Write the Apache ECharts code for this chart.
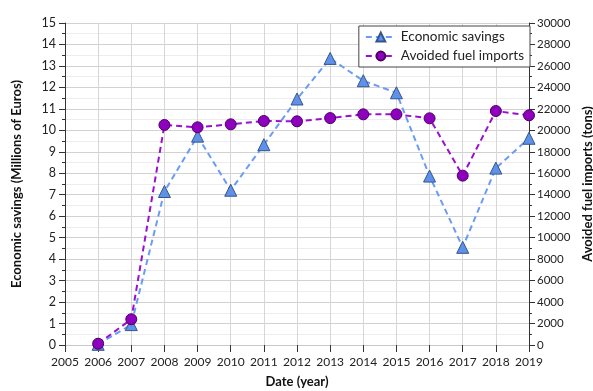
<!DOCTYPE html>
<html>
<head>
<meta charset="utf-8">
<script src="https://cdn.jsdelivr.net/npm/echarts@6/dist/echarts.min.js"></script>
<style>
  html, body { margin: 0; padding: 0; background: #fff; }
  #chart { width: 593px; height: 391px; }
</style>
</head>
<body>
<div id="chart"></div>
<script>
// data
var years = [2006, 2007, 2008, 2009, 2010, 2011, 2012, 2013, 2014, 2015, 2016, 2017, 2018, 2019];
var savings = [0.03, 0.95, 7.15, 9.73, 7.21, 9.33, 11.46, 13.35, 12.31, 11.75, 7.87, 4.55, 8.24, 9.63];
var fuelImports = [120, 2400, 20500, 20280, 20560, 20870, 20840, 21140, 21490, 21490, 21120, 15780, 21800, 21400];

var font = 'Lato, "DejaVu Sans", sans-serif';

function pairs(xs, ys) {
  return xs.map(function (x, i) { return [x, ys[i]]; });
}
function plain(v) { return String(v); }

var myChart = echarts.init(document.getElementById('chart'));

var option = {
  animation: false,
  backgroundColor: '#fff',
  textStyle: { fontFamily: font },
  grid: { left: 65, right: 64, top: 23, bottom: 46, containLabel: false, outerBoundsMode: 'none' },
  legend: {
    orient: 'vertical',
    right: 63,
    top: 26,
    itemWidth: 30,
    itemHeight: 11,
    itemGap: 5,
    padding: [4, 6, 4, 6],
    borderColor: '#444',
    borderWidth: 1,
    backgroundColor: '#fff',
    textStyle: { fontFamily: font, fontSize: 13.5, color: '#222' },
    data: ['Economic savings', 'Avoided fuel imports']
  },
  xAxis: {
    type: 'value',
    min: 2005,
    max: 2019,
    interval: 1,
    name: 'Date (year)',
    nameLocation: 'middle',
    nameGap: 30,
    nameTextStyle: { fontFamily: font, fontSize: 13, fontWeight: 'bold', color: '#111' },
    axisLine: { show: true, lineStyle: { color: '#c8c8c8' } },
    axisTick: { show: true, length: 7, lineStyle: { color: '#333' } },
    axisLabel: { fontFamily: font, fontSize: 12, color: '#222', margin: 11, formatter: plain },
    splitLine: { show: true, lineStyle: { color: '#d6d6d6' } }
  },
  yAxis: [
    {
      type: 'value',
      min: 0,
      max: 15,
      interval: 1,
      name: 'Economic savings (Millions of Euros)',
      nameLocation: 'middle',
      nameRotate: 90,
      nameGap: 42,
      nameTextStyle: { fontFamily: font, fontSize: 13, fontWeight: 'bold', color: '#111' },
      axisLine: { show: true, lineStyle: { color: '#333' } },
      axisTick: { show: true, length: 6, lineStyle: { color: '#333' } },
      minorTick: { show: true, splitNumber: 2, length: 3, lineStyle: { color: '#333' } },
      axisLabel: { fontFamily: font, fontSize: 12.5, color: '#222', margin: 9, formatter: plain },
      splitLine: { show: true, lineStyle: { color: '#d2d2d2' } },
      minorSplitLine: { show: true, lineStyle: { color: '#ededed' } }
    },
    {
      type: 'value',
      min: 0,
      max: 30000,
      interval: 2000,
      name: 'Avoided fuel imports (tons)',
      nameLocation: 'middle',
      nameRotate: 90,
      nameGap: 49,
      nameTextStyle: { fontFamily: font, fontSize: 13, fontWeight: 'bold', color: '#111' },
      axisLine: { show: true, lineStyle: { color: '#333' } },
      axisTick: { show: true, length: 6, lineStyle: { color: '#333' } },
      minorTick: { show: true, splitNumber: 2, length: 3, lineStyle: { color: '#333' } },
      axisLabel: { fontFamily: font, fontSize: 11.5, color: '#222', margin: 8, formatter: plain },
      splitLine: { show: false }
    }
  ],
  series: [
    {
      name: 'Economic savings',
      type: 'line',
      yAxisIndex: 0,
      data: pairs(years, savings),
      symbol: 'triangle',
      symbolSize: 12,
      lineStyle: { color: '#6b9cf5', width: 2, type: [6, 4] },
      itemStyle: { color: '#5f91e8', borderColor: '#34558c', borderWidth: 1 },
      z: 2
    },
    {
      name: 'Avoided fuel imports',
      type: 'line',
      yAxisIndex: 1,
      data: pairs(years, fuelImports),
      symbol: 'circle',
      symbolSize: 11,
      lineStyle: { color: '#9a10cc', width: 2, type: [6, 4] },
      itemStyle: { color: '#8e00bd', borderColor: '#4c0066', borderWidth: 1 },
      z: 3
    }
  ]
};

myChart.setOption(option);
</script>
</body>
</html>
